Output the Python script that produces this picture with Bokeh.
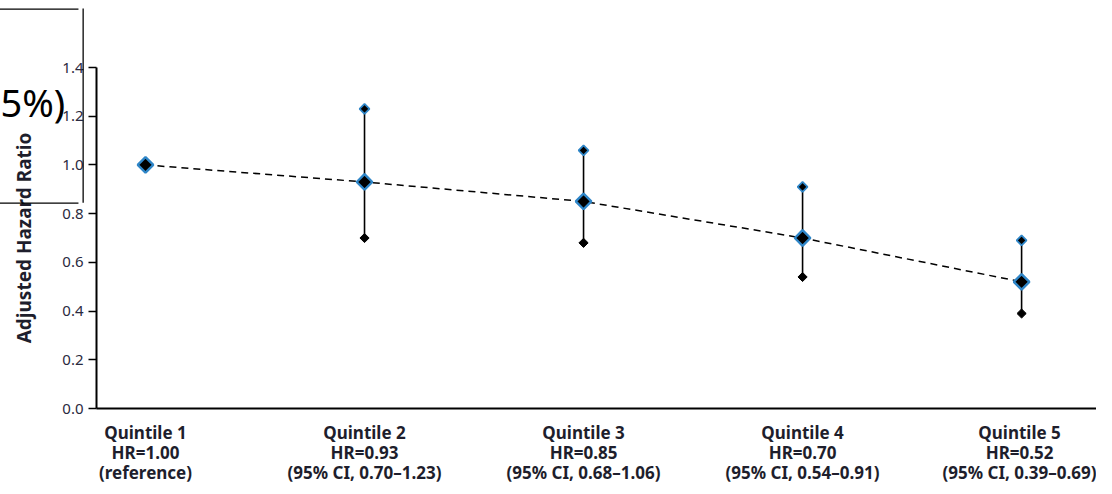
import numpy as np
from bokeh.plotting import figure
from bokeh.models import (ColumnDataSource, FixedTicker, PrintfTickFormatter,
                          Range1d, Label)
from bokeh.embed import file_html
from bokeh.resources import INLINE

# ---- data ----
quintiles = ["Quintile 1", "Quintile 2", "Quintile 3", "Quintile 4", "Quintile 5"]
hr = [1.00, 0.93, 0.85, 0.70, 0.52]
ci_low = [np.nan, 0.70, 0.68, 0.54, 0.39]
ci_high = [np.nan, 1.23, 1.06, 0.91, 0.69]
sub_labels = ["HR=1.00", "HR=0.93", "HR=0.85", "HR=0.70", "HR=0.52"]
ci_labels = ["(reference)", "(95% CI, 0.70\u20131.23)", "(95% CI, 0.68\u20131.06)",
             "(95% CI, 0.54\u20130.91)", "(95% CI, 0.39\u20130.69)"]
y_ticks = [0.0, 0.2, 0.4, 0.6, 0.8, 1.0, 1.2, 1.4]

xs = list(range(len(quintiles)))
src = ColumnDataSource(dict(x=xs, hr=hr, lo=ci_low, hi=ci_high))
ci_src = ColumnDataSource(dict(x=xs[1:], lo=ci_low[1:], hi=ci_high[1:]))

BLUE = "#2f86c8"
TXT = "#1e1e2c"

p = figure(width=1096, height=486, output_backend="svg", toolbar_location=None,
           x_range=Range1d(-0.2237, 4.342), y_range=Range1d(0, 1.4),
           min_border_left=96, min_border_right=0, min_border_top=67,
           min_border_bottom=78)
p.outline_line_color = None
p.grid.visible = False
p.background_fill_color = "white"

# dashed trend line
p.line("x", "hr", source=src, line_color="black", line_width=1.5, line_dash="7 5")
# CI bars
p.segment(x0="x", y0="lo", x1="x", y1="hi", source=ci_src, line_color="black", line_width=1.6)
p.scatter("x", "lo", source=ci_src, marker="square", angle=np.pi / 4, size=6.5,
          fill_color="black", line_color="black", line_width=1)
p.scatter("x", "hi", source=ci_src, marker="square", angle=np.pi / 4, size=7,
          fill_color="black", line_color=BLUE, line_width=1.8)
p.scatter("x", "hr", source=src, marker="square", angle=np.pi / 4, size=11,
          fill_color="black", line_color=BLUE, line_width=2.4)

# y axis
ya = p.yaxis[0]
ya.ticker = FixedTicker(ticks=y_ticks)
ya.formatter = PrintfTickFormatter(format="%.1f")
ya.axis_label = "Adjusted Hazard Ratio"
ya.axis_label_text_font = "Noto Sans"
ya.axis_label_text_font_style = "bold"
ya.axis_label_text_font_size = "19px"
ya.axis_label_text_color = TXT
ya.axis_label_standoff = 22
ya.major_label_text_font = "Noto Sans"
ya.major_label_text_font_size = "15px"
ya.major_label_text_color = "#2a2a40"
ya.major_label_standoff = 5
ya.major_tick_out = 8
ya.major_tick_in = 0
ya.minor_tick_out = 0
ya.minor_tick_in = 0
ya.axis_line_width = 2
ya.major_tick_line_width = 1.5

# x axis
xa = p.xaxis[0]
xa.ticker = FixedTicker(ticks=xs)
xa.major_label_overrides = {i: f"{quintiles[i]}\n{sub_labels[i]}\n{ci_labels[i]}" for i in xs}
xa.major_label_text_font = "Noto Sans"
xa.major_label_text_font_style = "bold"
xa.major_label_text_font_size = "17px"
xa.major_label_text_color = TXT
xa.major_label_text_line_height = 0.87
xa.major_label_standoff = 12
xa.major_tick_out = 0
xa.major_tick_in = 0
xa.minor_tick_out = 0
xa.minor_tick_in = 0
xa.axis_line_width = 2

# stray boxed fragment at the top-left. Its edges are thin filled labels kept in
# side panels (so they are not clipped to the frame and add almost no size).
def edge(x, y, right, bottom):
    return Label(x=x, y=y, text=" ", text_font_size="1px",
                 text_align="left", text_baseline="top",
                 background_fill_color="black", background_fill_alpha=1.0,
                 padding=dict(left=0, right=right, top=0, bottom=bottom))

p.add_layout(edge(-0.70, 1.642, 86, 0), "above")       # top edge
p.add_layout(edge(-0.70, 0.8457, 86, 0), "above")      # bottom edge
p.add_layout(edge(-0.2876, 1.642, 1, 193), "left")     # right edge

frag = Label(x=-0.6620, y=1.365, text="5%)",
             text_font="Noto Sans", text_font_size="38px", text_align="left",
             text_baseline="top", text_color="black")
p.add_layout(frag, "above")

open("out.html", "w").write(file_html(p, INLINE))
